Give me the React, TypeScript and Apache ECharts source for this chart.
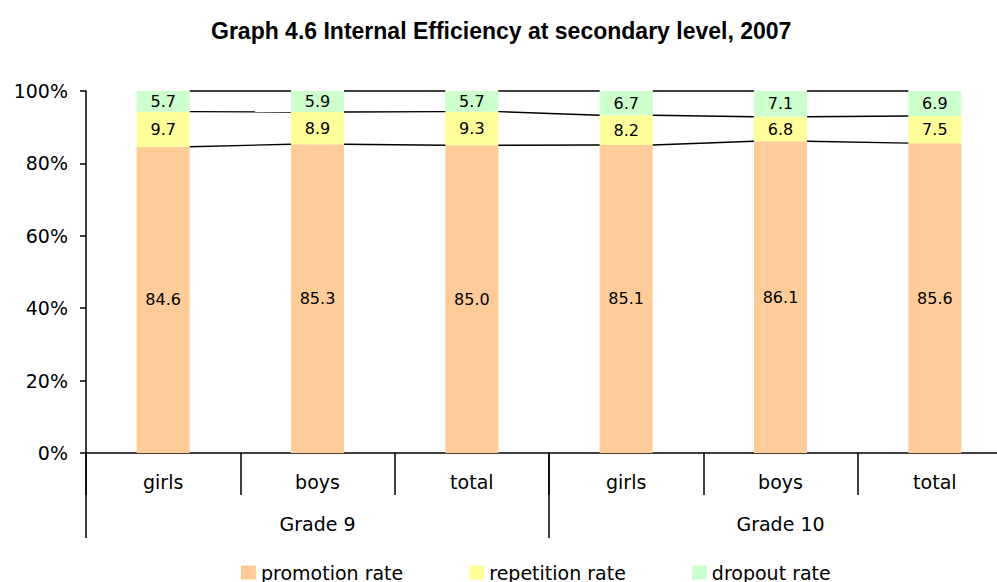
import React, { useEffect, useRef } from "react";
import * as echarts from "echarts";

const subCategories = ["girls", "boys", "total", "girls", "boys", "total"];
const groups = ["Grade 9", "Grade 10"];
const promotion = [84.6, 85.3, 85.0, 85.1, 86.1, 85.6];
const repetition = [9.7, 8.9, 9.3, 8.2, 6.8, 7.5];
const dropout = [5.7, 5.9, 5.7, 6.7, 7.1, 6.9];
const yTicks = [0, 20, 40, 60, 80, 100];

const FONT = "DejaVu Sans";
const BAR_RATIO = 0.344;

export default function App() {
  const ref = useRef<HTMLDivElement>(null);
  useEffect(() => {
    if (!ref.current) return;
    const chart = echarts.init(ref.current, undefined, { renderer: "svg" });

    const cumP = promotion.map((v) => v);
    const cumR = promotion.map((v, i) => v + repetition[i]);
    const cumT = promotion.map((v, i) => Math.min(yTicks[yTicks.length - 1], v + repetition[i] + dropout[i]));
    const lineData: number[][] = [];
    for (let i = 0; i < subCategories.length - 1; i++) {
      lineData.push([i, cumP[i], cumP[i + 1], cumR[i], cumR[i + 1], cumT[i], cumT[i + 1]]);
    }

    const labelStyle = {
      show: true,
      position: "inside" as const,
      color: "#000",
      fontFamily: FONT,
      fontSize: 16,
      formatter: (p: any) => Number(p.value).toFixed(1),
    };

    chart.setOption({
      animation: false,
      backgroundColor: "#fff",
      title: {
        text: "Graph 4.6 Internal Efficiency at secondary level, 2007",
        left: 206,
        top: 14,
        textStyle: {
          fontFamily: "Liberation Sans Narrow, Arial Narrow, Liberation Sans",
          fontWeight: "bold",
          fontSize: 23,
          color: "#000",
        },
      },
      legend: {
        left: 236,
        top: 558,
        itemWidth: 15,
        itemHeight: 14,
        itemGap: 66,
        icon: "rect",
        textStyle: { fontFamily: FONT, fontSize: 19, color: "#000" },
        data: ["promotion rate", "repetition rate", "dropout rate"],
      },
      grid: { left: 86, top: 91, width: 926, height: 362, containLabel: false },
      xAxis: [
        {
          type: "category",
          data: subCategories,
          position: "bottom",
          axisLine: { show: true, lineStyle: { color: "#000", width: 1.5 } },
          axisTick: { show: true, length: 42, interval: 0, lineStyle: { color: "#000", width: 1.5 } },
          axisLabel: { interval: 0, margin: 19, color: "#000", fontFamily: FONT, fontSize: 19 },
        },
        {
          type: "category",
          data: groups,
          position: "bottom",
          axisLine: { show: false },
          axisTick: { show: true, length: 85, interval: 0, lineStyle: { color: "#000", width: 1.5 } },
          axisLabel: { interval: 0, margin: 61, color: "#000", fontFamily: FONT, fontSize: 19 },
        },
      ],
      yAxis: {
        type: "value",
        min: 0,
        max: 100,
        interval: 20,
        axisLine: { show: true, lineStyle: { color: "#000", width: 1.5 } },
        axisTick: { show: true, length: 6, lineStyle: { color: "#000", width: 1.5 } },
        splitLine: { show: false },
        axisLabel: { margin: 18, color: "#000", fontFamily: FONT, fontSize: 19, formatter: "{value}%" },
      },
      series: [
        {
          name: "promotion rate",
          type: "bar",
          stack: "s",
          barWidth: BAR_RATIO * 100 + "%",
          data: promotion,
          itemStyle: { color: "#FFCC99" },
          label: labelStyle,
        },
        {
          name: "repetition rate",
          type: "bar",
          stack: "s",
          data: repetition,
          itemStyle: { color: "#FFFF99" },
          label: labelStyle,
        },
        {
          name: "dropout rate",
          type: "bar",
          stack: "s",
          data: dropout,
          itemStyle: { color: "#CCFFCC" },
          label: labelStyle,
        },
        {
          type: "custom",
          xAxisIndex: 0,
          yAxisIndex: 0,
          silent: true,
          z: 5,
          encode: { x: 0, y: 1 },
          data: lineData,
          renderItem: (params: any, api: any) => {
            const i = api.value(0);
            const bw = api.size([1, 0])[0] * BAR_RATIO;
            const children: any[] = [];
            for (let k = 0; k < 3; k++) {
              const a = api.coord([i, api.value(1 + k * 2)]);
              const b = api.coord([i + 1, api.value(2 + k * 2)]);
              children.push({
                type: "line",
                shape: { x1: a[0] + bw / 2, y1: a[1], x2: b[0] - bw / 2, y2: b[1] },
                style: { stroke: "#000", lineWidth: 1.4 },
              });
            }
            return { type: "group", children };
          },
        },
      ],
    });
    return () => chart.dispose();
  }, []);
  return (
    <div style={{ position: "absolute", left: 0, top: 0, width: 997, height: 582, overflow: "hidden" }}>
      <div ref={ref} style={{ width: 1030, height: 582 }} />
    </div>
  );
}
